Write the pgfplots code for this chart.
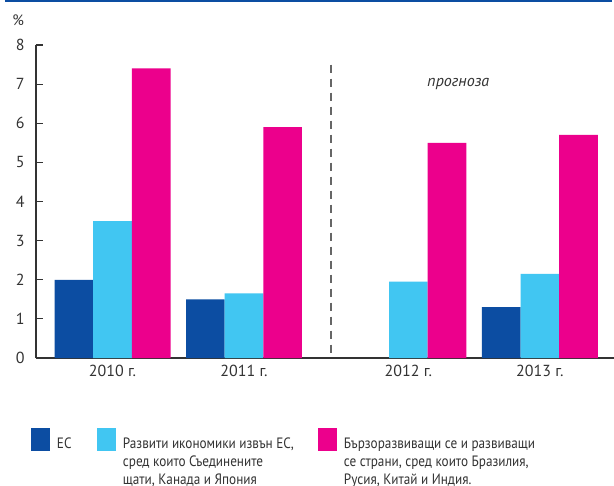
\documentclass[border=0pt]{standalone}
\usepackage{fontspec}
\setmainfont{PT Sans}
\newfontfamily\legfont[FakeStretch=0.88]{PT Sans}
\usepackage{pgfplots}
\pgfplotsset{compat=1.18}
\definecolor{ecblue}{HTML}{0C4DA2}
\definecolor{ltblue}{HTML}{41C6F2}
\definecolor{ecpink}{HTML}{EC008C}
\definecolor{txt}{HTML}{333333}
\definecolor{dashc}{HTML}{666666}
\newcommand{\lf}{\legfont\fontsize{15bp}{18bp}\selectfont}
\begin{document}
\begin{tikzpicture}
\useasboundingbox (-36bp,-128bp) rectangle (578bp,358bp);
\clip (-36bp,-128bp) rectangle (578bp,358bp);
\fill[white] (-36bp,-128bp) rectangle (578bp,358bp);
\draw[ecblue, line width=2bp] (-31bp,357bp) -- (576bp,357bp);
\begin{axis}[
  at={(0,0)}, anchor=south west, scale only axis,
  width=578bp, height=313bp,
  clip mode=individual,
  xmin=-0.582, xmax=3.814, ymin=0, ymax=8,
  ytick={0,...,8},
  xtick={0,1,2.25,3.25},
  xticklabels={2010 г.,2011 г.,2012 г.,2013 г.},
  axis lines=left,
  axis line style={-, txt, line width=1.2bp},
  tick align=inside,
  major tick length=7bp,
  ytick style={txt, line width=1.2bp},
  xtick style={draw=none},
  tick label style={font=\fontsize{16bp}{19bp}\selectfont, text=txt},
  yticklabel style={xshift=-8bp},
  xticklabel style={yshift=-4bp},
  /pgf/number format/assume math mode=true,
  legend style={at={(axis description cs:-0.00865,-0.2252)}, anchor=north west,
    draw=none, fill=none, inner sep=0pt, outer sep=0pt, column sep=0pt,
    legend columns=3,
    cells={anchor=north west, inner sep=0pt, text=txt}},
  legend image code/.code={\fill[#1] (0bp,7.5bp) rectangle (19bp,-15bp); \path (24bp,0bp);},
]
\addplot[ybar, bar width=0.294, bar shift=-0.294, fill=ecblue, draw=none]
  coordinates {(0,2.0) (1,1.5) (3.25,1.3)};
\addlegendentry{\parbox[t]{38bp}{\lf ЕС}}
\addplot[ybar, bar width=0.294, bar shift=0, fill=ltblue, draw=none]
  coordinates {(0,3.5) (1,1.65) (2.25,1.95) (3.25,2.15)};
\addlegendentry{\parbox[t]{193bp}{\lf\raggedright Развити икономики извън ЕС,\\ сред които Съединените\\ щати, Канада и Япония}}
\addplot[ybar, bar width=0.294, bar shift=0.294, fill=ecpink, draw=none]
  coordinates {(0,7.4) (1,5.9) (2.25,5.5) (3.25,5.7)};
\addlegendentry{\parbox[t]{300bp}{\lf\raggedright Бързоразвиващи се и развиващи\\ се страни, сред които Бразилия,\\ Русия, Китай и Индия.}}
\draw[dashc, line width=1.2bp, dash pattern=on 8bp off 6bp] (axis cs:1.662,7.5) -- (axis cs:1.662,0);
\node[font=\fontsize{16bp}{19bp}\selectfont\itshape, text=txt] at (axis cs:2.63,7.0) {прогноза};
\node[font=\fontsize{15bp}{18bp}\selectfont, text=txt] at (axis description cs:-0.031,1.08) {\%};
\end{axis}
\end{tikzpicture}
\end{document}
